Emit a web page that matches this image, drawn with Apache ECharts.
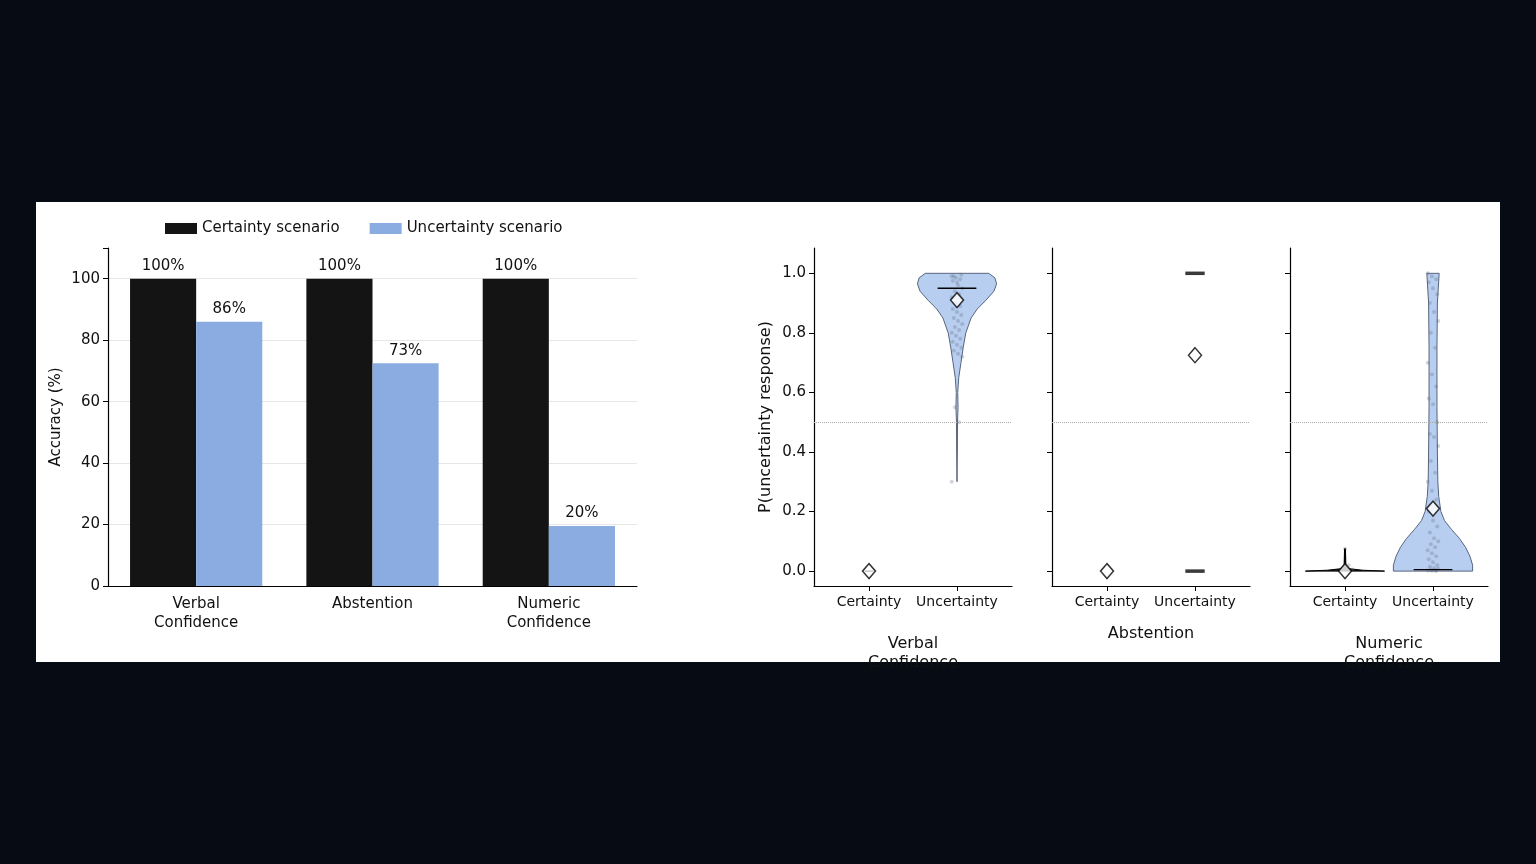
<!DOCTYPE html>
<html><head><meta charset="utf-8">
<script src="https://cdn.jsdelivr.net/npm/echarts@6/dist/echarts.min.js"></script>
<style>html,body{margin:0;padding:0;background:#070b14;}#c{width:1536px;height:864px;}</style>
</head><body><div id="c"></div>
<script>
const barCategories = ['Verbal\nConfidence', 'Abstention', 'Numeric\nConfidence'];
const certaintyAcc = [100, 100, 100];
const uncertaintyAcc = [86, 72.5, 19.5];
const barLabelsCert = ['100%', '100%', '100%'];
const barLabelsUnc = ['86%', '73%', '20%'];
const violinTicks = ['Certainty', 'Uncertainty'];
const panelTitles = ['Verbal\nConfidence', 'Abstention', 'Numeric\nConfidence'];
// violin profiles: [y, half-width in category units]
const verbalUncViolin = [[0.30,0],[0.40,0.004],[0.50,0.006],[0.55,0.012],[0.60,0.008],[0.65,0.02],[0.70,0.045],[0.75,0.07],[0.80,0.10],[0.85,0.16],[0.88,0.23],[0.91,0.33],[0.94,0.42],[0.965,0.45],[0.985,0.43],[1.0,0.36]];
const numericCertViolin = [[0,0.45],[0.003,0.2],[0.008,0.05],[0.02,0.01],[0.075,0.005]];
const numericUncViolin = [[0,0.45],[0.02,0.45],[0.05,0.42],[0.08,0.37],[0.11,0.30],[0.14,0.21],[0.17,0.13],[0.20,0.09],[0.25,0.065],[0.30,0.055],[0.40,0.05],[0.55,0.045],[0.75,0.045],[0.90,0.05],[1.0,0.07]];
const abstentionUncBars = [[0.0,0.11],[1.0,0.11]];
const means = [[0,0.91,0.0],[1,0.725,0.0],[2,0.21,0.0]]; // [panel, uncertainty mean, certainty mean]
const medians = [[0,0.95],[2,0.005]];
const verbalPoints = [0.99,0.985,0.98,0.975,0.97,0.995,0.99,0.96,0.95,0.94,0.93,0.92,0.90,0.89,0.88,0.87,0.86,0.85,0.84,0.83,0.82,0.81,0.80,0.79,0.78,0.77,0.76,0.75,0.74,0.73,0.72,0.55,0.50,0.30];
const numericPoints = [1.0,0.99,0.98,0.97,0.95,0.93,0.9,0.87,0.84,0.8,0.75,0.7,0.66,0.62,0.58,0.56,0.5,0.46,0.45,0.42,0.37,0.33,0.3,0.27,0.24,0.2,0.17,0.15,0.13,0.11,0.1,0.09,0.08,0.07,0.06,0.05,0.04,0.03,0.02,0.015,0.01,0.008,0.005,0.003,0.002,0.001,0];
const numericCertPoints = [0.075, 0.02, 0.005];

const FONT = 'DejaVu Sans';
const chart = echarts.init(document.getElementById('c'));
const panelsX = [814, 1052, 1290];
const grids = [{left:108, top:248, width:529, height:338}];
panelsX.forEach(x => grids.push({left:x, top:248, width:198, height:338}));

const xAxes = [{gridIndex:0, type:'category', data:barCategories,
  axisLine:{lineStyle:{color:'#000',width:1.2}}, axisTick:{alignWithLabel:true,length:5,lineStyle:{color:'#000'}},
  axisLabel:{color:'#111',fontSize:15,fontFamily:FONT,lineHeight:19,margin:9}}];
const yAxes = [{gridIndex:0, type:'value', min:0, max:110, interval:20,
  axisLine:{show:true,lineStyle:{color:'#000',width:1.2}}, axisTick:{show:true,length:5,lineStyle:{color:'#000'}},
  splitLine:{show:false},
  axisLabel:{color:'#111',fontSize:15,fontFamily:FONT,margin:8,formatter:v=>v>100?'':v},
  name:'Accuracy (%)', nameLocation:'middle', nameGap:44, nameTextStyle:{color:'#111',fontSize:15,fontFamily:FONT}}];
for (let i=0;i<3;i++){
  xAxes.push({gridIndex:i+1, type:'value', min:-0.625, max:1.625,
    axisLine:{show:true,onZero:false,lineStyle:{color:'#000',width:1.2}},
    axisTick:{show:true,customValues:[0,1],length:5,lineStyle:{color:'#000'}},
    splitLine:{show:false},
    axisLabel:{customValues:[0,1],formatter:v=>violinTicks[Math.round(v)],color:'#111',fontSize:14,fontFamily:FONT,margin:9},
    name:panelTitles[i], nameLocation:'middle', nameGap:i===1?38:48,
    nameTextStyle:{color:'#111',fontSize:16,fontFamily:FONT,lineHeight:19}});
  yAxes.push({gridIndex:i+1, type:'value', min:-0.05, max:1.085,
    axisLine:{show:true,onZero:false,lineStyle:{color:'#000',width:1.2}},
    axisTick:{show:true,customValues:[0,0.2,0.4,0.6,0.8,1.0],length:5,lineStyle:{color:'#000'}},
    splitLine:{show:false},
    axisLabel:{show:i===0,customValues:[0,0.2,0.4,0.6,0.8,1.0],formatter:v=>v.toFixed(1),color:'#111',fontSize:15,fontFamily:FONT,margin:8},
    name:i===0?'P(uncertainty response)':'', nameLocation:'middle', nameGap:40,
    nameTextStyle:{color:'#111',fontSize:16,fontFamily:FONT}});
}

function violinSeries(panel, center, prof, fill, stroke){
  return {type:'custom', xAxisIndex:panel, yAxisIndex:panel, data:[[center]], z:3,
    renderItem:(params, api)=>{
      const right = prof.map(p=>api.coord([center+p[1], p[0]]));
      const left = prof.slice().reverse().map(p=>api.coord([center-p[1], p[0]]));
      return {type:'polygon', shape:{points:right.concat(left)}, style:{fill:fill, stroke:stroke, lineWidth:1}};
    }};
}
function segSeries(panel, segs, color, width, z){
  return {type:'custom', xAxisIndex:panel, yAxisIndex:panel, data:[[0]], z:z||5,
    renderItem:(params, api)=>({type:'group', children:segs.map(s=>{
      const a=api.coord([s[0],s[1]]), b=api.coord([s[2],s[3]]);
      return {type:'line', shape:{x1:a[0],y1:a[1],x2:b[0],y2:b[1]}, style:{stroke:color,lineWidth:width}};
    })})};
}
function jitter(vals, center, spread){
  return vals.map((v,i)=>[center + (((i*37)%11)/10-0.5)*spread, v]);
}
const dotted = {silent:true, symbol:'none', label:{show:false}, lineStyle:{color:'#aaa',type:'dotted',width:1}, data:[{yAxis:0.5}]};

const series = [
  {type:'bar', xAxisIndex:0, yAxisIndex:0, name:'Certainty scenario', data:certaintyAcc, barWidth:'37.5%', barGap:'0%',
   itemStyle:{color:'#141414'},
   label:{show:true,position:'top',distance:5,color:'#111',fontSize:15,fontFamily:FONT,formatter:p=>barLabelsCert[p.dataIndex]},
   markLine:{silent:true,symbol:'none',label:{show:false},lineStyle:{color:'#e6e6e6',type:'solid',width:1},data:[{yAxis:20},{yAxis:40},{yAxis:60},{yAxis:80},{yAxis:100}],z:0}},
  {type:'bar', xAxisIndex:0, yAxisIndex:0, name:'Uncertainty scenario', data:uncertaintyAcc, barWidth:'37.5%', barGap:'0%',
   itemStyle:{color:'#8aace0'},
   label:{show:true,position:'top',distance:5,color:'#111',fontSize:15,fontFamily:FONT,formatter:p=>barLabelsUnc[p.dataIndex]}},
  // panel 1
  violinSeries(1, 1, verbalUncViolin, 'rgba(160,190,235,0.75)', '#56657d'),
  {type:'scatter', xAxisIndex:1, yAxisIndex:1, data:jitter(verbalPoints,1,0.12), symbolSize:4, itemStyle:{color:'rgba(90,100,120,0.35)'}, z:4, markLine:dotted},
  segSeries(1, [[1-0.22,medians[0][1],1+0.22,medians[0][1]],[-0.05,0,0.05,0]], '#000', 1.6),
  // panel 2
  segSeries(2, abstentionUncBars.map(b=>[1-b[1],b[0],1+b[1],b[0]]), '#3a3a3a', 3.5),
  {type:'line', xAxisIndex:2, yAxisIndex:2, data:[], markLine:dotted},
  // panel 3
  violinSeries(3, 0, numericCertViolin, '#1a1a1a', '#000'),
  violinSeries(3, 1, numericUncViolin, 'rgba(160,190,235,0.75)', '#56657d'),
  {type:'scatter', xAxisIndex:3, yAxisIndex:3, data:jitter(numericPoints,1,0.12).concat(jitter(numericCertPoints,0.05,0.1)), symbolSize:4, itemStyle:{color:'rgba(90,100,120,0.35)'}, z:4, markLine:dotted},
  segSeries(3, [[1-0.22,medians[1][1],1+0.22,medians[1][1]],[0,0,0,0.075]], '#000', 1.4),
];
means.forEach(m=>{
  series.push({type:'scatter', xAxisIndex:m[0]+1, yAxisIndex:m[0]+1, data:[[1,m[1]],[0,m[2]]], symbol:'diamond', symbolSize:[13,15],
    itemStyle:{color:'#fff',borderColor:'#000',borderWidth:1.5}, z:8});
});

chart.setOption({
  backgroundColor:'#070b14',
  animation:false,
  graphic:[{type:'rect', shape:{x:36,y:202,width:1464,height:460}, style:{fill:'#fff'}, z:-10}],
  legend:{left:160, top:216, itemWidth:32, itemHeight:11, itemGap:30, icon:'rect',
    data:['Certainty scenario','Uncertainty scenario'], textStyle:{color:'#111',fontSize:15,fontFamily:FONT}},
  grid:grids, xAxis:xAxes, yAxis:yAxes, series:series
});
</script></body></html>
